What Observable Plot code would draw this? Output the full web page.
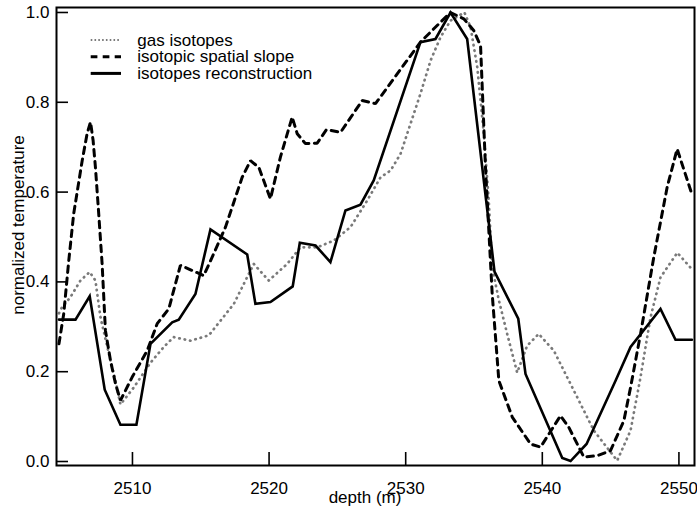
<!DOCTYPE html>
<html>
<head>
<meta charset="utf-8">
<script src="https://cdn.jsdelivr.net/npm/d3@7"></script>
<script src="https://cdn.jsdelivr.net/npm/@observablehq/plot@0.6"></script>
<style>
  html, body { margin: 0; padding: 0; background: white; }
  svg { display: block; }
</style>
</head>
<body>
<div id="chart"></div>
<script>
// ---- data ----
const gasDepth = [2504.62, 2504.85, 2505.46, 2506.19, 2506.87, 2507.29, 2507.66, 2508.39, 2508.76, 2509.12,
  2510.10, 2511.32, 2512.29, 2513.02, 2514.25, 2515.59, 2517.42, 2518.88, 2519.98, 2521.32,
  2522.30, 2523.52, 2524.74, 2525.96, 2527.18, 2528.16, 2528.89, 2529.62, 2530.35, 2531.08,
  2531.82, 2532.55, 2533.28, 2534.30, 2534.75, 2535.24, 2535.72, 2536.08, 2536.33, 2536.82,
  2537.43, 2538.16, 2538.89, 2539.74, 2540.84, 2542.31, 2543.77, 2545.48, 2546.46, 2547.19,
  2547.92, 2548.65, 2549.88, 2550.90];
const gasValue = [0.330, 0.344, 0.366, 0.403, 0.422, 0.403, 0.321, 0.225, 0.180, 0.127,
  0.165, 0.220, 0.255, 0.277, 0.269, 0.281, 0.351, 0.440, 0.403, 0.440,
  0.477, 0.477, 0.492, 0.522, 0.581, 0.633, 0.648, 0.685, 0.752, 0.819,
  0.893, 0.945, 0.982, 1.000, 0.967, 0.878, 0.730, 0.581, 0.433, 0.359,
  0.284, 0.198, 0.258, 0.284, 0.247, 0.158, 0.069, 0.002, 0.069, 0.188,
  0.321, 0.410, 0.465, 0.430];

const slopeDepth = [2504.62, 2504.97, 2505.34, 2505.70, 2506.32, 2506.68, 2506.93, 2507.12, 2507.29, 2507.53,
  2507.78, 2508.02, 2508.39, 2508.76, 2509.12, 2509.98, 2511.08, 2511.81, 2512.66, 2513.51,
  2515.22, 2515.95, 2516.81, 2518.03, 2518.64, 2519.25, 2520.10, 2520.83, 2521.69, 2522.06,
  2522.66, 2523.52, 2524.20, 2525.23, 2526.82, 2527.79, 2531.08, 2532.30, 2533.28, 2534.25,
  2534.98, 2535.48, 2535.84, 2536.33, 2536.82, 2537.80, 2539.14, 2539.87, 2541.33, 2541.94,
  2543.04, 2544.02, 2544.99, 2545.97, 2546.46, 2547.19, 2548.16, 2549.14, 2549.87, 2550.90];
const slopeValue = [0.262, 0.329, 0.448, 0.552, 0.670, 0.730, 0.756, 0.715, 0.655, 0.552,
  0.440, 0.292, 0.225, 0.173, 0.136, 0.188, 0.247, 0.307, 0.340, 0.437,
  0.414, 0.463, 0.522, 0.633, 0.670, 0.655, 0.585, 0.678, 0.767, 0.730,
  0.708, 0.709, 0.739, 0.733, 0.804, 0.797, 0.934, 0.971, 1.000, 0.986,
  0.960, 0.926, 0.655, 0.374, 0.180, 0.099, 0.039, 0.032, 0.102, 0.076,
  0.010, 0.013, 0.024, 0.091, 0.165, 0.284, 0.455, 0.611, 0.696, 0.600];

const reconDepth = [2504.62, 2505.83, 2506.87, 2507.97, 2509.12, 2510.29, 2511.32, 2512.91, 2513.39, 2514.61,
  2515.71, 2518.40, 2519.00, 2520.10, 2521.73, 2522.25, 2523.40, 2524.49, 2525.59, 2526.69,
  2527.66, 2531.08, 2532.18, 2533.28, 2534.50, 2536.50, 2538.24, 2538.77, 2541.46, 2542.07,
  2543.24, 2545.36, 2546.46, 2548.65, 2549.75, 2550.95];
const reconValue = [0.316, 0.316, 0.368, 0.160, 0.082, 0.082, 0.262, 0.310, 0.316, 0.373,
  0.517, 0.461, 0.351, 0.355, 0.390, 0.487, 0.481, 0.444, 0.559, 0.572,
  0.626, 0.934, 0.941, 1.000, 0.941, 0.423, 0.318, 0.195, 0.008, 0.001,
  0.039, 0.180, 0.255, 0.340, 0.271, 0.271];

const xTicks = [2510, 2520, 2530, 2540, 2550];
const yTicks = [0.0, 0.2, 0.4, 0.6, 0.8, 1.0];
const seriesNames = ["gas isotopes", "isotopic spatial slope", "isotopes reconstruction"];
const xLabel = "depth (m)";
const yLabel = "normalized temperature";

// ---- tables ----
const gas = gasDepth.map((d, i) => ({depth: d, value: gasValue[i]}));
const slope = slopeDepth.map((d, i) => ({depth: d, value: slopeValue[i]}));
const recon = reconDepth.map((d, i) => ({depth: d, value: reconValue[i]}));

const FONT = "'Liberation Sans', Arial, Helvetica, sans-serif";

const plot = Plot.plot({
  width: 697,
  height: 508,
  marginLeft: 56,
  marginRight: 3,
  marginTop: 7,
  marginBottom: 43,
  style: {fontFamily: FONT, fontSize: "17px", background: "white", color: "black", overflow: "visible"},
  x: {domain: [2504.44, 2551.14]},
  y: {domain: [-0.0089, 1.0111]},
  marks: [
    Plot.line(gas, {x: "depth", y: "value", stroke: "#7a7a7a", strokeWidth: 2.7,
      strokeDasharray: "0.5,5", strokeLinecap: "round"}),
    Plot.line(slope, {x: "depth", y: "value", stroke: "black", strokeWidth: 3,
      strokeDasharray: "6.5,5.5", strokeLinejoin: "miter"}),
    Plot.line(recon, {x: "depth", y: "value", stroke: "black", strokeWidth: 2.6,
      strokeLinejoin: "miter", strokeMiterlimit: 10}),
    // axes: inward ticks
    Plot.axisY({ticks: yTicks, tickSize: 12, dx: 12, text: null, strokeWidth: 1.6, label: null}),
    Plot.axisY({ticks: yTicks, tickSize: 0, tickPadding: 7, tickFormat: d3.format(".1f"), label: null,
      fontSize: 17}),
    Plot.axisX({ticks: xTicks, tickSize: 13, dy: -13, text: null, strokeWidth: 1.6, label: null}),
    Plot.axisX({ticks: xTicks, tickSize: 0, tickPadding: 16, tickFormat: d3.format("d"), label: null,
      fontSize: 17}),
    Plot.frame({stroke: "black", strokeWidth: 2})
  ]
});

const svg = d3.select(plot);

// ---- axis titles ----
svg.append("text")
  .attr("x", 365).attr("y", 503)
  .attr("text-anchor", "middle")
  .attr("font-family", FONT).attr("font-size", 17).attr("fill", "black")
  .text(xLabel);
svg.append("text")
  .attr("transform", "translate(23.5,225) rotate(-90)")
  .attr("text-anchor", "middle")
  .attr("font-family", FONT).attr("font-size", 17).attr("fill", "black")
  .text(yLabel);

// ---- legend (inside plot, top-left) ----
const lg = svg.append("g").attr("font-family", FONT).attr("font-size", 17).attr("fill", "black")
  .attr("text-anchor", "start");
const rows = [
  {name: seriesNames[0], stroke: "#7a7a7a", width: 2, dash: "1.6,2.2"},
  {name: seriesNames[1], stroke: "black", width: 3, dash: "6.7,5.3"},
  {name: seriesNames[2], stroke: "black", width: 3, dash: null}
];
rows.forEach((r, i) => {
  const y = 40 + i * 16.7;
  const ln = lg.append("line").attr("x1", 90.7).attr("x2", 121).attr("y1", y).attr("y2", y)
    .attr("stroke", r.stroke).attr("stroke-width", r.width).attr("stroke-linecap", "butt");
  if (r.dash) ln.attr("stroke-dasharray", r.dash);
  lg.append("text").attr("x", 137.3).attr("y", y + 5.5).attr("text-anchor", "start").text(r.name);
});

document.getElementById("chart").appendChild(plot);
</script>
</body>
</html>
